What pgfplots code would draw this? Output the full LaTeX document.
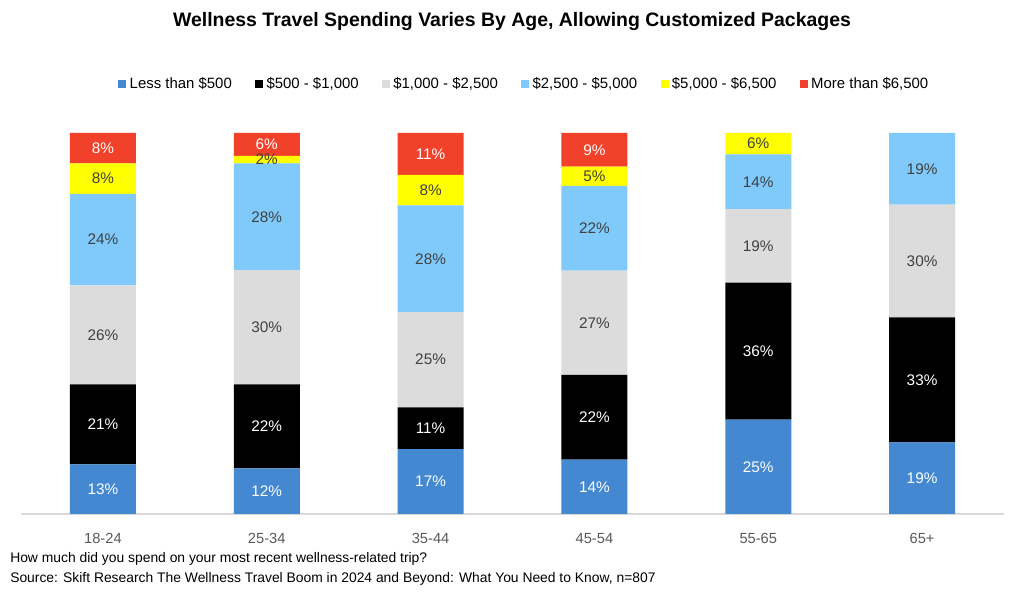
\documentclass[border=0pt]{standalone}
\usepackage{pgfplots}
\pgfplotsset{compat=1.18}
\usepackage{fontspec}
\setmainfont{Liberation Sans}
\definecolor{cBlue}{HTML}{4388D1}
\definecolor{cBlack}{HTML}{000000}
\definecolor{cGray}{HTML}{DCDCDC}
\definecolor{cLBlue}{HTML}{7FCAFA}
\definecolor{cYellow}{HTML}{FFFF00}
\definecolor{cRed}{HTML}{F2412A}
\definecolor{cTick}{HTML}{595959}
\definecolor{cLab}{HTML}{404040}
\definecolor{cAxis}{HTML}{D9D9D9}
\begin{document}
\begin{tikzpicture}
\path[use as bounding box, fill=white] (0,0) rectangle (768pt,447pt);
\pgfplotsset{
  base/.style={
    at={(15.75pt,61.5pt)}, anchor=south west,
    scale only axis, width=737.25pt, height=285.75pt,
    xmin=-0.5, xmax=5.5, ymin=0, ymax=100,
    /pgf/number format/assume math mode=true,
  }
}
\begin{axis}[base,
  ybar stacked, bar width=49.5pt,
  axis x line*=bottom, axis y line=none,
  x axis line style={cAxis, line width=0.8pt},
  xtick={0,1,2,3,4,5},
  xticklabels={18-24,25-34,35-44,45-54,55-65,65+},
  major tick length=0pt,
  xticklabel style={font=\fontsize{11}{13}\selectfont, text=cTick, yshift=-11pt},
  ytick=\empty,
  legend columns=6,
  legend style={at={(0.5117,1.129)}, anchor=center, draw=none, fill=none,
    font=\fontsize{11.2}{13}\selectfont,
    /tikz/every even column/.append style={column sep=16.5pt},
    /tikz/every odd column/.append style={column sep=1.5pt},
    nodes={inner sep=1pt}},
  legend image code/.code={\fill[#1] (0pt,-3.2pt) rectangle (6pt,3.2pt);},
]
\addplot[fill=cBlue, draw=none] coordinates {(0,13) (1,12) (2,17) (3,14.3) (4,24.8) (5,18.8)};
\addplot[fill=cBlack, draw=none] coordinates {(0,21) (1,22) (2,11) (3,22.2) (4,35.9) (5,32.8)};
\addplot[fill=cGray, draw=none] coordinates {(0,26) (1,30) (2,25) (3,27.4) (4,19.3) (5,29.6)};
\addplot[fill=cLBlue, draw=none] coordinates {(0,24) (1,28) (2,28) (3,22.2) (4,14.4) (5,18.8)};
\addplot[fill=cYellow, draw=none] coordinates {(0,8) (1,2) (2,8) (3,5.1) (4,5.6) (5,0)};
\addplot[fill=cRed, draw=none] coordinates {(0,8) (1,6) (2,11) (3,8.8) (4,0) (5,0)};
\legend{Less than \$500,\$500 - \$1{,}000,\$1{,}000 - \$2{,}500,\$2{,}500 - \$5{,}000,\$5{,}000 - \$6{,}500,More than \$6{,}500}
\end{axis}
\begin{axis}[base, axis lines=none, clip=false, xtick=\empty, ytick=\empty]
\addplot[draw=none, mark=none, nodes near coords, point meta=explicit symbolic,
  every node near coord/.style={anchor=center, text=white, font=\fontsize{11.5}{13}\selectfont}]
  coordinates {
  (0,6.5) [13\%] (1,6) [12\%] (2,8.5) [17\%] (3,7.15) [14\%] (4,12.4) [25\%] (5,9.4) [19\%]
  (0,23.5) [21\%] (1,23) [22\%] (2,22.5) [11\%] (3,25.4) [22\%] (4,42.75) [36\%] (5,35.2) [33\%]
  (0,96) [8\%] (1,97) [6\%] (2,94.5) [11\%] (3,95.6) [9\%]
  };
\addplot[draw=none, mark=none, nodes near coords, point meta=explicit symbolic,
  every node near coord/.style={anchor=center, text=cLab, font=\fontsize{11.5}{13}\selectfont}]
  coordinates {
  (0,47) [26\%] (1,49) [30\%] (2,40.5) [25\%] (3,50.2) [27\%] (4,70.35) [19\%] (5,66.4) [30\%]
  (0,72) [24\%] (1,78) [28\%] (2,67) [28\%] (3,75) [22\%] (4,87.2) [14\%] (5,90.6) [19\%]
  (0,88) [8\%] (1,93) [2\%] (2,85) [8\%] (3,88.65) [5\%] (4,97.2) [6\%]
  };
\end{axis}
\node[font=\bfseries\fontsize{14.6}{17}\selectfont] at (384pt,430.5pt) {Wellness Travel Spending Varies By Age, Allowing Customized Packages};
\node[anchor=west, font=\fontsize{10.4}{12}\selectfont, inner sep=0pt] at (7.5pt,27.5pt) {How much did you spend on your most recent wellness-related trip?};
\node[anchor=west, font=\fontsize{10.4}{12}\selectfont, inner sep=0pt] at (7.5pt,12.75pt) {Source: Skift Research The Wellness Travel Boom in 2024 and Beyond: What You Need to Know, n=807};
\end{tikzpicture}
\end{document}
